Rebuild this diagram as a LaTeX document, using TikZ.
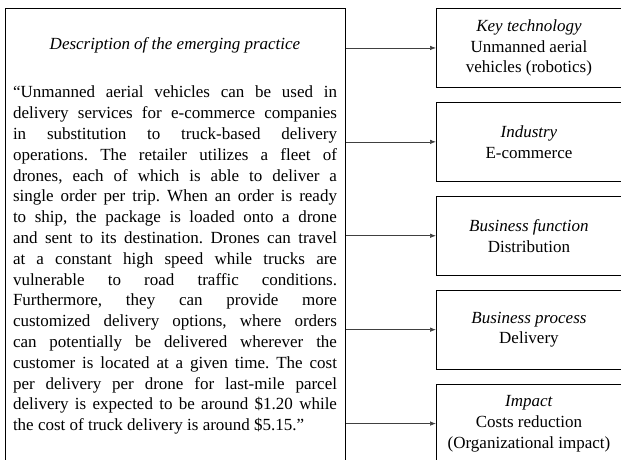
\documentclass[tikz,border=0pt]{standalone}
\usepackage{fontspec}
\setmainfont{Liberation Serif}
\usetikzlibrary{positioning}
\usetikzlibrary{arrows.meta}

\begin{document}
\begin{tikzpicture}[x=1pt,y=-1pt,font=\fontsize{17}{20.8}\selectfont,
                    facet/.style={draw,line width=0.9pt,minimum width=185pt,minimum height=79pt,
                                  align=center,anchor=north west,inner sep=0pt},
                    link/.style={-{Latex[length=6pt,width=4.5pt]},line width=0.7pt,black!75}]
    \useasboundingbox (0,0) rectangle (621,459);
    \node[draw,line width=0.9pt,minimum width=340pt,minimum height=470pt,anchor=north west] (descbox) at (5,8) {};
    \node[text width=324pt,align=justify,anchor=north,inner sep=0pt] (desctext) at (175,37) {%
        \parindent=0pt\hyphenpenalty=10000\tolerance=10000\frenchspacing
        {\centering\itshape Description of the emerging practice\par}
        \vspace{28pt}
        “Unmanned aerial vehicles can be used in\linebreak
        delivery services for e-commerce companies\linebreak
        in substitution to truck-based delivery\linebreak
        operations. The retailer utilizes a fleet of\linebreak
        drones, each of which is able to deliver a\linebreak
        single order per trip. When an order is ready\linebreak
        to ship, the package is loaded onto a drone\linebreak
        and sent to its destination. Drones can travel\linebreak
        at a constant high speed while trucks are\linebreak
        vulnerable to road traffic conditions.\linebreak
        Furthermore, they can provide more\linebreak
        customized delivery options, where orders\linebreak
        can potentially be delivered wherever the\linebreak
        customer is located at a given time. The cost\linebreak
        per delivery per drone for last-mile parcel\linebreak
        delivery is expected to be around \$1.20 while\linebreak
        the cost of truck delivery is around \$5.15.”\par};
    \node[facet] (tech) at (436,8) {\textit{Key technology}\\Unmanned aerial\\vehicles (robotics)};
    \node[facet,below=14pt of tech] (industry) {\textit{Industry}\\E-commerce};
    \node[facet,below=14pt of industry] (function) {\textit{Business function}\\Distribution};
    \node[facet,below=14pt of function] (process) {\textit{Business process}\\Delivery};
    \node[facet,below=14pt of process] (impact) {\textit{Impact}\\Costs reduction\\(Organizational impact)};
    \draw[link] (descbox.east |- tech.west) -- (tech.west);
    \draw[link] (descbox.east |- industry.west) -- (industry.west);
    \draw[link] (descbox.east |- function.west) -- (function.west);
    \draw[link] (descbox.east |- process.west) -- (process.west);
    \draw[link] (descbox.east |- impact.west) -- (impact.west);
\end{tikzpicture}
\end{document}
